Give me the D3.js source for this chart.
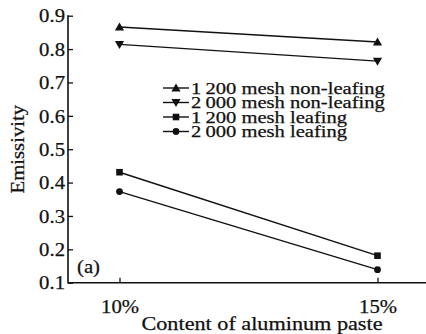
<!DOCTYPE html>
<html>
<head>
<meta charset="utf-8">
<script src="https://cdn.jsdelivr.net/npm/d3@7"></script>
<style>
  html, body { margin: 0; padding: 0; background: #fff; }
  svg { display: block; }
  text { font-family: "Liberation Serif", "Times New Roman", serif; fill: #111; stroke: #111; stroke-width: 0.25px; }
</style>
</head>
<body>
<svg id="chart" width="426" height="334"></svg>
<script>
// Aluminium paste content (x categories)
const categories = ["10%", "15%"];
// Emissivity per series
const nonLeafing1200 = [0.866, 0.821];
const nonLeafing2000 = [0.814, 0.764];
const leafing1200 = [0.431, 0.181];
const leafing2000 = [0.373, 0.139];
const seriesNames = [
  "1\u2009200 mesh non-leafing",
  "2\u2009000 mesh non-leafing",
  "1\u2009200 mesh leafing",
  "2\u2009000 mesh leafing"
];
const seriesSymbols = ["triUp", "triDown", "square", "circle"];
const yTicks = [0.1, 0.2, 0.3, 0.4, 0.5, 0.6, 0.7, 0.8, 0.9];

const series = [nonLeafing1200, nonLeafing2000, leafing1200, leafing2000].map((v, i) => ({
  name: seriesNames[i], symbol: seriesSymbols[i], values: v
}));

const svg = d3.select("#chart");
const plotLeft = 68, plotRight = 426, plotTop = 15.7, plotBottom = 282.7;
const FONT = "18.5px";
const LEGEND_FONT = "17px";
const STRETCH = 1.12;   // wide serif face

const x = d3.scalePoint().domain(categories).range([119.5, 377.5]);
const y = d3.scaleLinear().domain([0.1, 0.9]).range([plotBottom, plotTop]);

// Widen text horizontally
function widen(sel, factor = STRETCH) {
  sel.each(function () {
    const w = this.getComputedTextLength();
    d3.select(this).attr("textLength", w * factor).attr("lengthAdjust", "spacingAndGlyphs");
  });
}

// Marker shapes
function marker(g, kind) {
  if (kind === "triUp") {
    g.append("path").attr("d", "M0,-4.6L4.6,3.4L-4.6,3.4Z");
  } else if (kind === "triDown") {
    g.append("path").attr("d", "M0,4.6L4.6,-3.4L-4.6,-3.4Z");
  } else if (kind === "square") {
    g.append("rect").attr("x", -3.3).attr("y", -3.3).attr("width", 6.6).attr("height", 6.6);
  } else {
    g.append("circle").attr("r", 3.4);
  }
  g.selectAll("*").attr("fill", "#111");
}

// Y axis
const yAxis = svg.append("g").attr("transform", `translate(${plotLeft},0)`)
  .call(d3.axisRight(y).tickValues(yTicks).tickSize(5).tickFormat(d3.format(".1f")));
yAxis.select(".domain").remove();
yAxis.selectAll(".tick line").attr("stroke", "#111").attr("stroke-width", 1.3);
yAxis.selectAll(".tick text")
  .attr("x", -3).attr("text-anchor", "end").attr("dy", "0.34em")
  .style("font-size", FONT).style("font-family", "Liberation Serif, serif").attr("fill", "#111")
  .call(widen);

// X axis
const xAxis = svg.append("g").attr("transform", `translate(0,${plotBottom})`)
  .call(d3.axisTop(x).tickSize(5));
xAxis.select(".domain").remove();
xAxis.selectAll(".tick line").attr("stroke", "#111").attr("stroke-width", 1.3);
xAxis.selectAll(".tick text")
  .attr("y", 30).attr("dy", 0).attr("text-anchor", "middle")
  .style("font-size", FONT).style("font-family", "Liberation Serif, serif").attr("fill", "#111")
  .call(widen);

// Axis frame lines (left + bottom)
svg.append("path")
  .attr("d", `M${plotLeft},${plotTop - 0.5}V${plotBottom}H${plotRight}`)
  .attr("fill", "none").attr("stroke", "#111").attr("stroke-width", 1.6);

// Series lines and markers
const line = d3.line().x((d, i) => x(categories[i])).y(d => y(d));
series.forEach(s => {
  svg.append("path").attr("d", line(s.values))
    .attr("fill", "none").attr("stroke", "#111").attr("stroke-width", 1.4);
  s.values.forEach((v, i) => {
    const g = svg.append("g").attr("transform", `translate(${x(categories[i])},${y(v)})`);
    marker(g, s.symbol);
  });
});

// Legend
const legend = svg.append("g");
series.forEach((s, i) => {
  const cy = 88 + i * 14.5;
  legend.append("line").attr("x1", 163).attr("x2", 189).attr("y1", cy).attr("y2", cy)
    .attr("stroke", "#111").attr("stroke-width", 1.4);
  marker(legend.append("g").attr("transform", `translate(176,${cy})`), s.symbol);
  legend.append("text").attr("x", 191).attr("y", cy).attr("dy", "0.34em")
    .style("font-size", LEGEND_FONT).text(s.name).call(widen, 1.21);
});

// Panel tag
svg.append("text").attr("x", 77).attr("y", 273).style("font-size", FONT).text("(a)").call(widen);

// Axis titles
svg.append("text").attr("x", 262).attr("y", 330).attr("text-anchor", "middle")
  .style("font-size", FONT).text("Content of aluminum paste").call(widen, 1.2);
svg.append("text")
  .attr("transform", `translate(24,${(plotTop + plotBottom) / 2}) rotate(-90)`)
  .attr("text-anchor", "middle").style("font-size", FONT).text("Emissivity").call(widen);
</script>
</body>
</html>
